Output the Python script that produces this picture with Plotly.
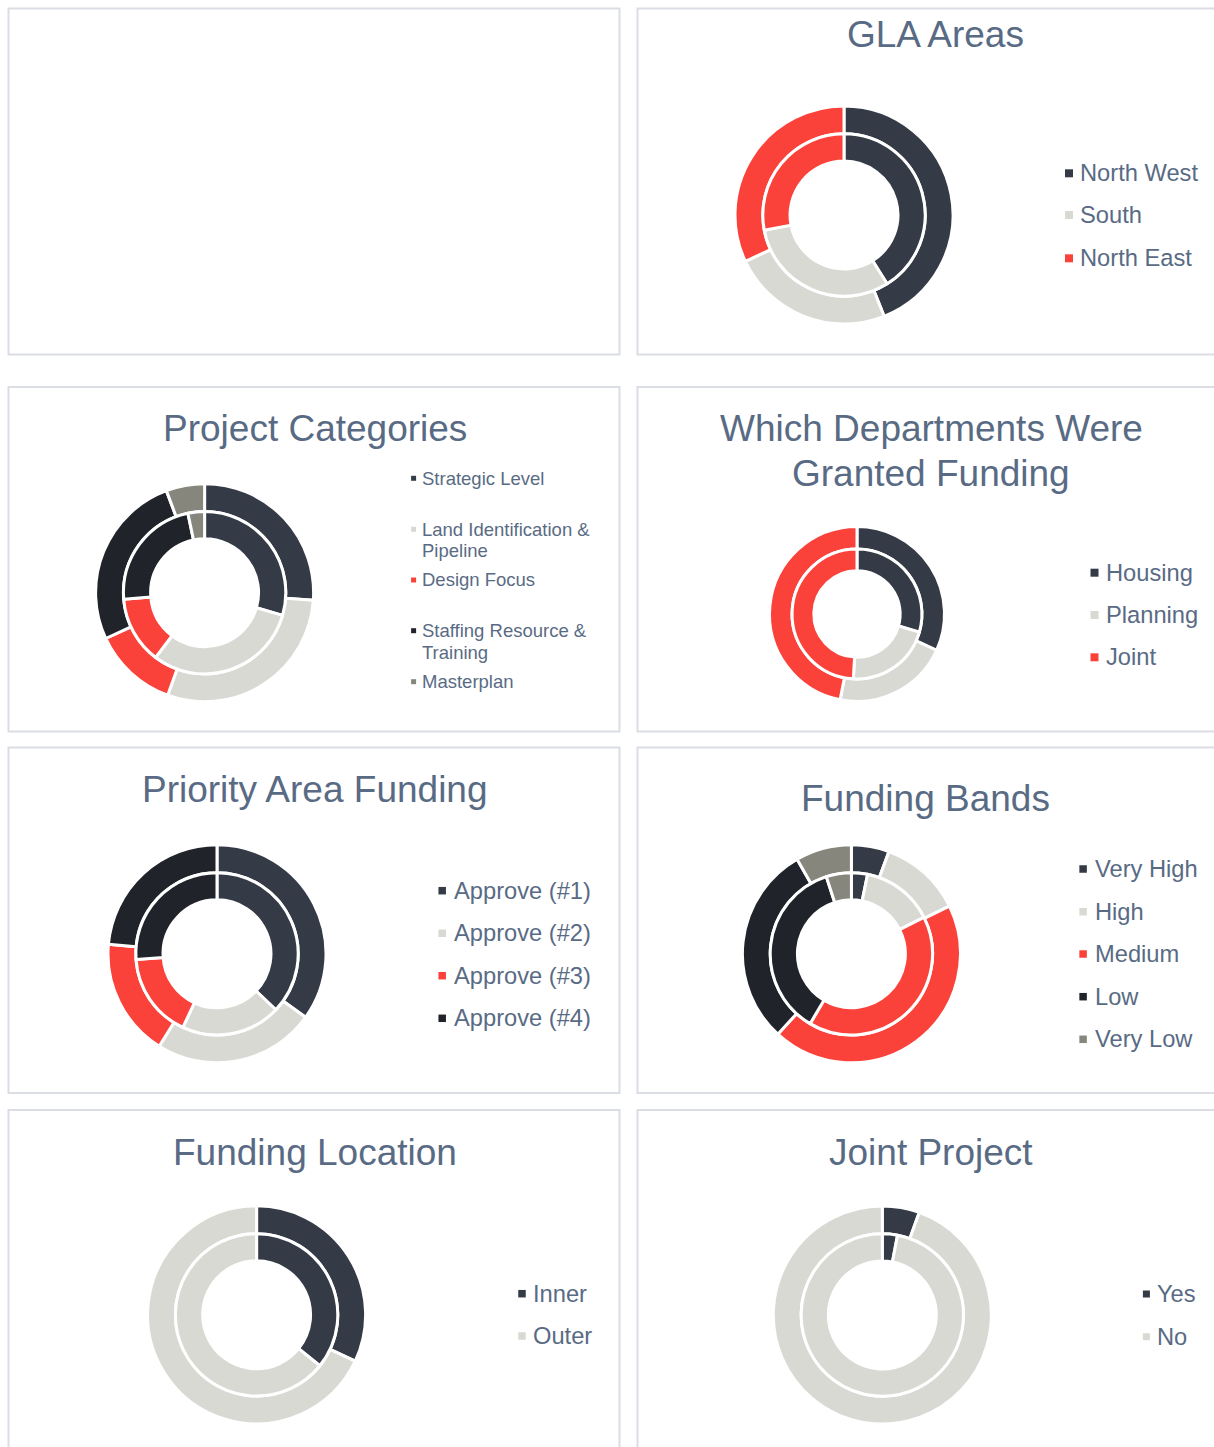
import textwrap
import plotly.graph_objects as go

# ---------------- data ----------------
GLA_LABELS = ["North West", "South", "North East"]
GLA_OUTER = [44.0, 24.0, 32.0]
GLA_INNER = [41.1, 30.9, 28.0]

CAT_LABELS = ["Strategic Level", "Land Identification & Pipeline", "Design Focus",
              "Staffing Resource & Training", "Masterplan"]
CAT_OUTER = [26.1, 29.4, 12.6, 26.2, 5.7]
CAT_INNER = [29.5, 30.8, 13.4, 23.0, 3.3]

DEPT_LABELS = ["Housing", "Planning", "Joint"]
DEPT_OUTER = [31.8, 21.3, 46.9]
DEPT_INNER = [29.5, 21.4, 49.1]

PRI_LABELS = ["Approve (#1)", "Approve (#2)", "Approve (#3)", "Approve (#4)"]
PRI_OUTER = [34.9, 24.0, 17.5, 23.6]
PRI_INNER = [37.1, 19.8, 17.0, 26.1]

BAND_LABELS = ["Very High", "High", "Medium", "Low", "Very Low"]
BAND_OUTER = [5.6, 12.2, 44.0, 29.9, 8.3]
BAND_INNER = [3.2, 14.4, 40.9, 36.5, 5.0]

LOC_LABELS = ["Inner", "Outer"]
LOC_OUTER = [32.0, 68.0]
LOC_INNER = [35.8, 64.2]

JOINT_LABELS = ["Yes", "No"]
JOINT_OUTER = [5.5, 94.5]
JOINT_INNER = [3.0, 97.0]

TITLES = ["GLA Areas", "Project Categories", "Which Departments Were<br>Granted Funding",
          "Priority Area Funding", "Funding Bands", "Funding Location", "Joint Project"]

# ---------------- styles ----------------
W, H = 1214, 1447
SLATE = "#343A46"
LIGHT = "#D9D9D4"
RED = "#FA423A"
DARK = "#20242A"
GREY = "#86867C"
PALETTE = [SLATE, LIGHT, RED, DARK, GREY]
TEXT = "#596B84"
BORDER = "#DADDE3"
FONT = "Liberation Sans, Arial, sans-serif"


def fx(x):
    return x / W


def fy(y):
    return 1 - y / H


panels = [
    dict(title=TITLES[0], tx=935, ty=35, labels=GLA_LABELS, outer=GLA_OUTER, inner=GLA_INNER,
         cx=844, cy=215, r=107.5, mx=1069, lx=1078, ly=[173.3, 215, 258.3], fs=23.7, ms=8),
    dict(title=TITLES[1], tx=314.5, ty=428.3, labels=CAT_LABELS, outer=CAT_OUTER, inner=CAT_INNER,
         cx=204.6, cy=592.7, r=107.5, mx=413.6, lx=420,
         ly=[478.3, 529.3, 580, 630.7, 681.7], fs=18.5, ms=5, wrap=22, lgap=21.4),
    dict(title=TITLES[2], tx=931, ty=428.3, tgap=44.7, labels=DEPT_LABELS, outer=DEPT_OUTER,
         inner=DEPT_INNER, cx=857, cy=614, r=86, mx=1094.5, lx=1103.8, ly=[572.7, 615, 657.3],
         fs=23.7, ms=8),
    dict(title=TITLES[3], tx=314.5, ty=789.3, labels=PRI_LABELS, outer=PRI_OUTER, inner=PRI_INNER,
         cx=217, cy=953.8, r=107.5, mx=442.2, lx=452.2,
         ly=[890.7, 933.3, 975.7, 1018.3], fs=23.7, ms=7.5),
    dict(title=TITLES[4], tx=925.5, ty=798.5, labels=BAND_LABELS, outer=BAND_OUTER, inner=BAND_INNER,
         cx=851.4, cy=953.8, r=107.5, mx=1083.1, lx=1092.7,
         ly=[869, 911.7, 954, 996.7, 1039.3], fs=23.7, ms=7.5),
    dict(title=TITLES[5], tx=314.5, ty=1152.5, labels=LOC_LABELS, outer=LOC_OUTER, inner=LOC_INNER,
         cx=256.6, cy=1314.8, r=107.5, mx=522, lx=531.3, ly=[1293.7, 1336], fs=23.7, ms=7.5),
    dict(title=TITLES[6], tx=930.5, ty=1152.5, labels=JOINT_LABELS, outer=JOINT_OUTER, inner=JOINT_INNER,
         cx=882.3, cy=1315, r=107.5, mx=1146.4, lx=1155.3, ly=[1294, 1336.7], fs=23.7, ms=7),
]

# panel frames (px)
frames = [
    (8.5, 8.5, 619.5, 354.5), (637.5, 8.5, 1240, 354.5),
    (8.5, 387, 619.5, 731.5), (637.5, 387, 1240, 731.5),
    (8.5, 747.5, 619.5, 1093), (637.5, 747.5, 1240, 1093),
    (8.5, 1110, 619.5, 1470), (637.5, 1110, 1240, 1470),
]

fig = go.Figure()
shapes = []
annotations = []

for x0, y0, x1, y1 in frames:
    shapes.append(dict(type="rect", xref="paper", yref="paper",
                       x0=fx(x0), x1=fx(x1), y0=fy(y1), y1=fy(y0),
                       line=dict(color=BORDER, width=2), fillcolor="rgba(0,0,0,0)", layer="below"))

LINE_W = 3
for p in panels:
    cx, cy, r = p["cx"], p["cy"], p["r"]
    r_out = r + LINE_W / 2
    r_mid = r * 0.755
    r_hole = r * 0.502
    colors = PALETTE[:len(p["labels"])]
    for vals, R, hole in ((p["outer"], r_out, r_mid / r_out), (p["inner"], r_mid, r_hole / r_mid)):
        fig.add_trace(go.Pie(
            labels=p["labels"], values=vals, sort=False, direction="clockwise", rotation=0,
            hole=hole, textinfo="none", hoverinfo="label+value",
            marker=dict(colors=colors, line=dict(color="white", width=LINE_W)),
            domain=dict(x=[fx(cx - R), fx(cx + R)], y=[fy(cy + R), fy(cy - R)]),
            showlegend=False,
        ))
    # title (one annotation per line for exact line spacing)
    for k, tline in enumerate(p["title"].split("<br>")):
        annotations.append(dict(text=tline, x=fx(p["tx"]), y=fy(p["ty"] + k * p.get("tgap", 0)),
                                xref="paper", yref="paper", xanchor="center", yanchor="middle",
                                showarrow=False, font=dict(family=FONT, size=37, color=TEXT)))
    # legend
    ms = p["ms"]
    for i, lab in enumerate(p["labels"]):
        y = p["ly"][i]
        shapes.append(dict(type="rect", xref="paper", yref="paper",
                           x0=fx(p["mx"] - ms / 2), x1=fx(p["mx"] + ms / 2),
                           y0=fy(y + ms / 2), y1=fy(y - ms / 2),
                           fillcolor=colors[i], line=dict(width=0)))
        lines = textwrap.wrap(lab, p["wrap"]) if p.get("wrap") else [lab]
        for j, ln in enumerate(lines):
            annotations.append(dict(text=ln, x=fx(p["lx"]), y=fy(y + j * p.get("lgap", 0)),
                                    xref="paper", yref="paper", xanchor="left", yanchor="middle",
                                    showarrow=False, font=dict(family=FONT, size=p["fs"], color=TEXT)))

fig.update_layout(
    width=W, height=H, margin=dict(l=0, r=0, t=0, b=0),
    paper_bgcolor="white", plot_bgcolor="white",
    shapes=shapes, annotations=annotations, showlegend=False,
    font=dict(family=FONT, color=TEXT),
)

fig.write_html("out.html", config={"displayModeBar": False},
               post_script="document.body.style.margin='0';document.body.style.overflow='hidden';")
